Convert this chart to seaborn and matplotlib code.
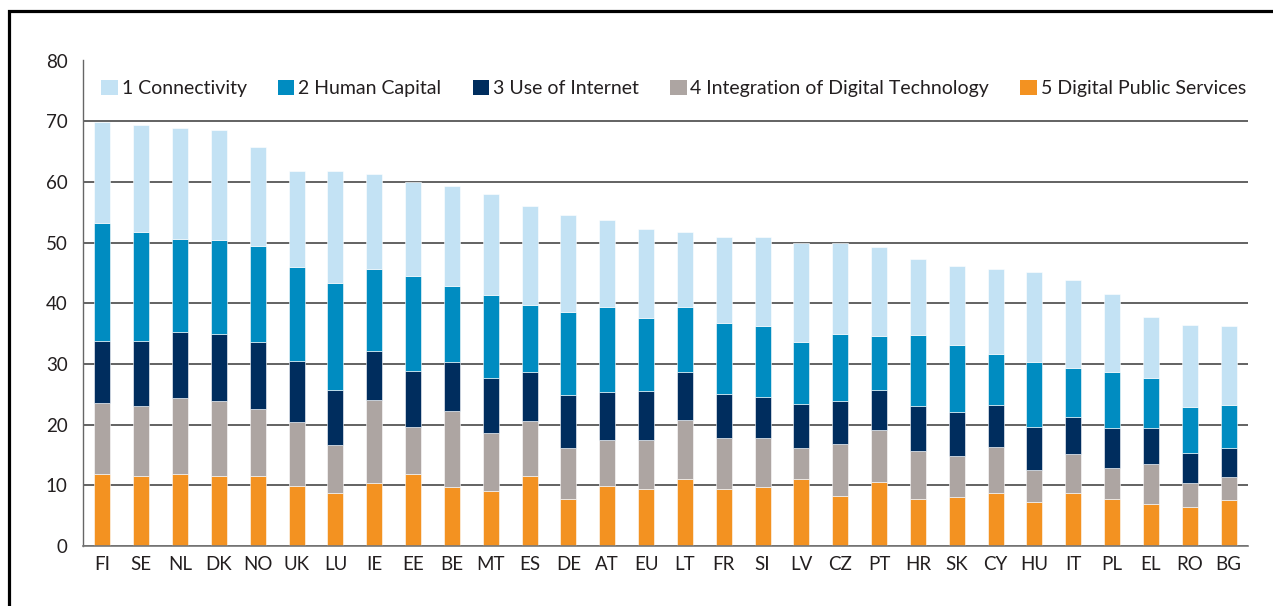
import numpy as np
import matplotlib
matplotlib.use("Agg")
import matplotlib.pyplot as plt
from matplotlib.patches import Patch, Rectangle
import seaborn as sns

countries = ["FI", "SE", "NL", "DK", "NO", "UK", "LU", "IE", "EE", "BE", "MT", "ES", "DE", "AT", "EU",
             "LT", "FR", "SI", "LV", "CZ", "PT", "HR", "SK", "CY", "HU", "IT", "PL", "EL", "RO", "BG"]

digital_public_services = [11.8, 11.6, 11.8, 11.6, 11.6, 9.9, 8.8, 10.4, 11.8, 9.7, 9.0, 11.6, 7.8, 9.9, 9.4,
                           11.0, 9.4, 9.7, 11.0, 8.3, 10.6, 7.8, 8.0, 8.7, 7.3, 8.7, 7.8, 6.9, 6.4, 7.6]
integration_digital_tech = [11.8, 11.4, 12.6, 12.3, 10.9, 10.5, 7.8, 13.7, 7.8, 12.6, 9.7, 9.0, 8.3, 7.6, 8.1,
                            9.8, 8.4, 8.1, 5.1, 8.5, 8.5, 7.8, 6.9, 7.6, 5.3, 6.4, 5.0, 6.6, 4.0, 3.8]
use_of_internet = [10.2, 10.8, 10.9, 11.1, 11.1, 10.1, 9.1, 8.0, 9.3, 8.0, 9.0, 8.0, 8.7, 7.8, 8.1,
                   7.8, 7.3, 6.8, 7.3, 7.1, 6.6, 7.4, 7.1, 6.9, 7.0, 6.2, 6.6, 5.9, 5.0, 4.7]
human_capital = [19.4, 18.0, 15.3, 15.4, 15.8, 15.4, 17.6, 13.5, 15.6, 12.5, 13.7, 11.1, 13.8, 14.0, 12.0,
                 10.7, 11.6, 11.6, 10.2, 11.1, 8.9, 11.7, 11.1, 8.5, 10.7, 8.0, 9.2, 8.3, 7.5, 7.1]
connectivity = [16.6, 17.6, 18.3, 18.2, 16.4, 15.9, 18.5, 15.7, 15.5, 16.6, 16.6, 16.4, 15.9, 14.5, 14.7,
                12.5, 14.2, 14.7, 16.3, 14.9, 14.6, 12.6, 13.1, 14.0, 14.9, 14.5, 12.9, 10.1, 13.5, 13.0]

series_labels = ["1 Connectivity", "2 Human Capital", "3 Use of Internet",
                 "4 Integration of Digital Technology", "5 Digital Public Services"]
y_ticks = [0, 10, 20, 30, 40, 50, 60, 70, 80]

n = len(countries)

colors = {
    "1 Connectivity": "#C3E2F4",
    "2 Human Capital": "#008CC1",
    "3 Use of Internet": "#002D5E",
    "4 Integration of Digital Technology": "#ADA5A2",
    "5 Digital Public Services": "#F39221",
}

sns.set_theme(style="white")
plt.rcParams["font.family"] = ["Lato", "DejaVu Sans"]
text_color = "#231F20"

fig = plt.figure(figsize=(12.73, 6.06), dpi=100)
ax = fig.add_axes([83 / 1273, (606 - 546) / 606, (1248 - 83) / 1273, (546 - 60.5) / 606])

stack = [
    ("5 Digital Public Services", digital_public_services),
    ("4 Integration of Digital Technology", integration_digital_tech),
    ("3 Use of Internet", use_of_internet),
    ("2 Human Capital", human_capital),
    ("1 Connectivity", connectivity),
]

bottom = np.zeros(n)
for name, vals in stack:
    vals = np.asarray(vals, dtype=float)
    sns.barplot(x=countries, y=vals, order=countries, color=colors[name], saturation=1,
                width=0.41, bottom=bottom, ax=ax, edgecolor="white", linewidth=0.4)
    bottom = bottom + vals

ax.set_ylim(0, 80)
ax.set_xlim(-0.5, n - 0.5)
ax.set_yticks(y_ticks)
ax.set_yticklabels([str(t) for t in y_ticks], fontsize=13.5, color=text_color)
ax.set_xticks(range(n))
ax.set_xticklabels(countries, fontsize=13.5, color=text_color)
ax.set_xticks(np.arange(-0.5, n, 1.0), minor=True)
ax.tick_params(axis="x", which="major", length=0, pad=7)
ax.tick_params(axis="x", which="minor", length=5, width=1, color="#777777", direction="out")
ax.tick_params(axis="y", which="major", length=5, width=1, color="#777777", direction="out", pad=6)

ax.set_axisbelow(True)
ax.yaxis.grid(True, color="#383838", linewidth=1.1)
ax.xaxis.grid(False)
for side in ["top", "right"]:
    ax.spines[side].set_visible(False)
ax.spines["left"].set_color("#666666")
ax.spines["left"].set_linewidth(1.0)
ax.spines["bottom"].set_color("#777777")
ax.spines["bottom"].set_linewidth(1.2)
ax.set_xlabel("")
ax.set_ylabel("")

handles = [Patch(facecolor=colors[l], edgecolor="none", label=l) for l in series_labels]
leg = ax.legend(handles=handles, loc="center", bbox_to_anchor=(0.507, 0.942), ncol=5, frameon=False,
                fontsize=14, handlelength=0.85, handleheight=0.85, handletextpad=0.2,
                columnspacing=1.6, borderaxespad=0)
for t in leg.get_texts():
    t.set_color(text_color)

# outer frame (only top and left visible in the reference)
fig.patches.append(Rectangle((9 / 1273, -0.2), 1.5, (606 - 11) / 606 + 0.2, transform=fig.transFigure,
                             fill=False, edgecolor="black", linewidth=2.3, zorder=10))

fig.savefig("out.png", dpi=100)
